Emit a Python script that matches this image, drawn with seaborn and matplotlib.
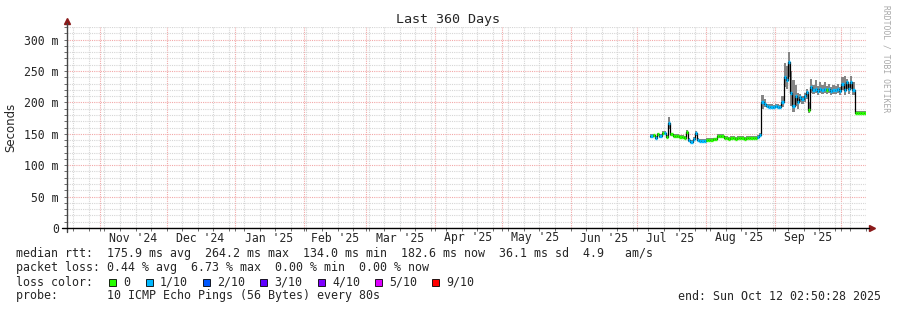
import matplotlib
matplotlib.use("Agg")
import matplotlib.pyplot as plt
import matplotlib.dates as mdates
from matplotlib.patches import Rectangle
import numpy as np
import pandas as pd
import seaborn as sns

# ---------------- data ----------------
first_day = "2025-07-07"
median_ms = [
    # Jul 7..31
    146, 148, 144, 149, 146, 151, 152, 145, 167, 149, 147, 146, 146, 145, 145, 144, 153, 140, 137, 142, 151, 140, 139, 139, 139,
    # Aug
    140, 140, 140, 141, 141, 147, 146, 146, 143, 143, 142, 143, 143, 142, 143, 143, 143, 142, 143, 143, 144, 143, 143, 145, 148,
    200, 197, 194, 193, 193, 192,
    # Sep
    194, 193, 192, 200, 240, 235, 264, 215, 195, 210, 200, 208, 205, 210, 217, 188, 225, 220, 222, 218, 221, 220, 222, 219, 221,
    218, 220, 219, 221, 218,
    # Oct 1..12
    230, 220, 232, 221, 233, 220, 183, 183, 183, 183, 183, 183,
]
smoke_hi_ms = [
    149, 150, 147, 152, 149, 154, 155, 148, 176, 152, 150, 149, 149, 148, 148, 147, 156, 143, 140, 145, 154, 143, 142, 142, 142,
    143, 143, 143, 144, 144, 150, 149, 149, 146, 146, 145, 146, 146, 145, 146, 146, 146, 145, 146, 146, 147, 146, 146, 148, 152,
    212, 205, 198, 197, 197, 196,
    198, 197, 196, 210, 262, 258, 280, 250, 235, 228, 215, 213, 210, 215, 222, 200, 238, 228, 236, 226, 232, 228, 233, 226, 230,
    225, 228, 226, 229, 225,
    240, 242, 238, 230, 242, 232, 186, 186, 186, 186, 186, 186,
]
smoke_lo_ms = [
    144, 146, 142, 147, 144, 149, 150, 143, 158, 147, 145, 144, 144, 143, 143, 142, 149, 137, 135, 140, 147, 138, 137, 137, 137,
    138, 138, 138, 139, 139, 144, 144, 144, 141, 141, 140, 141, 141, 140, 141, 141, 141, 140, 141, 141, 142, 141, 141, 143, 146,
    190, 193, 192, 191, 191, 190,
    192, 191, 190, 192, 225, 222, 240, 195, 185, 195, 190, 200, 198, 200, 205, 183, 215, 214, 215, 212, 215, 214, 215, 213, 215,
    212, 214, 213, 215, 212,
    220, 212, 222, 214, 222, 212, 181, 181, 181, 181, 181, 181,
]
loss_tenths = [
    1, 0, 1, 0, 1, 0, 1, 0, 1, 0, 0, 0, 0, 0, 0, 0, 0, 1, 1, 1, 1, 1, 1, 1, 1,
    0, 0, 0, 0, 0, 0, 0, 0, 0, 0, 0, 0, 0, 0, 0, 0, 0, 0, 0, 0, 0, 0, 0, 1, 1,
    1, 1, 1, 1, 1, 1,
    1, 1, 1, 1, 1, 1, 1, 1, 1, 1, 1, 1, 1, 1, 1, 0, 1, 1, 1, 1, 1, 1, 1, 0, 1,
    1, 1, 1, 1, 1,
    1, 1, 1, 1, 1, 1, 0, 0, 0, 0, 0, 0,
]

loss_labels = ["0", "1/10", "2/10", "3/10", "4/10", "5/10", "9/10"]
loss_colors = ["#26ff00", "#00b8ff", "#0059ff", "#5e00ff", "#7e00ff", "#dd00ff", "#ff0000"]

month_labels = ["Nov '24", "Dec '24", "Jan '25", "Feb '25", "Mar '25", "Apr '25",
                "May '25", "Jun '25", "Jul '25", "Aug '25", "Sep '25"]
month_label_dates = ["2024-11-16", "2024-12-16", "2025-01-16", "2025-02-15", "2025-03-16",
                     "2025-04-16", "2025-05-16", "2025-06-16", "2025-07-16", "2025-08-16", "2025-09-16"]

y_ticks = [0, 50, 100, 150, 200, 250, 300]
y_tick_labels = ["0", "50 m", "100 m", "150 m", "200 m", "250 m", "300 m"]

t_start = "2024-10-17 02:50:28"
t_end = "2025-10-12 02:50:28"

title = "Last 360 Days"
ylabel = "Seconds"
line_rtt = "median rtt:  175.9 ms avg  264.2 ms max  134.0 ms min  182.6 ms now  36.1 ms sd  4.9   am/s"
line_loss = "packet loss: 0.44 % avg  6.73 % max  0.00 % min  0.00 % now"
line_color = "loss color:"
line_probe = "probe:       10 ICMP Echo Pings (56 Bytes) every 80s"
line_end = "end: Sun Oct 12 02:50:28 2025"
watermark = "RRDTOOL / TOBI OETIKER"

# ---------------- figure ----------------
sns.set_theme(style="white")
plt.rcParams["font.family"] = ["DejaVu Sans Mono", "DejaVu Sans"]
W, H = 897, 310
fig = plt.figure(figsize=(W / 100, H / 100), dpi=100)
fig.patch.set_facecolor("white")
ax = fig.add_axes([67 / W, (H - 228) / H, 799 / W, 201 / H])
ax.set_facecolor("white")

df = pd.DataFrame({
    "t": pd.date_range(first_day, periods=len(median_ms), freq="D"),
    "median": median_ms, "hi": smoke_hi_ms, "lo": smoke_lo_ms, "loss": loss_tenths,
})
df["t_next"] = df["t"] + pd.Timedelta(days=1)

x0 = pd.Timestamp(t_start)
x1 = pd.Timestamp(t_end)
ax.set_xlim(x0, x1)
ax.set_ylim(0, 320)

# grid
month_starts = pd.date_range("2024-11-01", x1, freq="MS")
weeks = pd.date_range("2024-10-20", x1, freq="7D")
ax.set_xticks(month_starts)
ax.set_xticks(weeks, minor=True)
ax.set_xticklabels([])
ax.set_yticks(y_ticks)
ax.set_yticklabels(y_tick_labels)
ax.set_yticks(np.arange(0, 321, 10), minor=True)
ax.grid(which="minor", color="#d6d6d6", linestyle=(0, (1, 1)), linewidth=0.8)
ax.grid(which="major", color="#f2a8a8", linestyle=(0, (1, 1)), linewidth=0.8)
ax.set_axisbelow(True)
ax.tick_params(axis="y", which="both", length=2, width=0.6, color="#555555",
               labelsize=8.3, pad=4, left=True)
ax.tick_params(axis="x", which="both", length=2, width=0.6, color="#555555", bottom=True)
for lab in ax.get_yticklabels():
    lab.set_fontfamily("DejaVu Sans Mono")
for s in ax.spines.values():
    s.set_visible(False)

# smoke
ax.fill_between(df["t"], df["lo"], df["hi"], step="post", color="#858585", linewidth=0, zorder=2)
# median black trace
sns.lineplot(data=df, x="t", y="median", drawstyle="steps-post", color="black",
             linewidth=0.9, ax=ax, zorder=3)
# loss coloured segments
ax.hlines(df["median"], df["t"], df["t_next"],
          colors=[loss_colors[v] for v in df["loss"]], linewidth=2.4, zorder=4)
ax.set_xlabel("")
ax.set_ylabel("")

# axis lines with arrows
ax.plot([0, 0], [-0.02, 1.02], transform=ax.transAxes, color="#444444", lw=1, clip_on=False, zorder=5)
ax.plot([-0.006, 1.004], [0, 0], transform=ax.transAxes, color="black", lw=1, clip_on=False, zorder=5)
ax.plot([0], [1.028], marker="^", ms=4, color="#8b1a1a", transform=ax.transAxes, clip_on=False)
ax.plot([1.007], [0], marker=">", ms=4, color="#8b1a1a", transform=ax.transAxes, clip_on=False)

# month labels
trans = matplotlib.transforms.blended_transform_factory(ax.transData, ax.transAxes)
for lab, d in zip(month_labels, month_label_dates):
    ax.text(pd.Timestamp(d), -10 / 201, lab, transform=trans, ha="center", va="center",
            fontsize=8.3, family="DejaVu Sans Mono")

def fx(px):
    return px / W

def fy(py):
    return 1 - py / H

fig.text(fx(448), fy(19), title, ha="center", va="center", fontsize=9.6, family="DejaVu Sans Mono")
fig.text(fx(11), fy(127), ylabel, ha="center", va="center", rotation=90, fontsize=8.5,
         family="DejaVu Sans")
fig.text(fx(886), fy(5), watermark, ha="center", va="top", rotation=-90, fontsize=5.8,
         color="#a8a8a8", family="DejaVu Sans Mono")

fs = 8.4
fig.text(fx(16), fy(254), line_rtt, ha="left", va="center", fontsize=fs, family="DejaVu Sans Mono")
fig.text(fx(16), fy(268), line_loss, ha="left", va="center", fontsize=fs, family="DejaVu Sans Mono")
fig.text(fx(16), fy(282), line_color, ha="left", va="center", fontsize=fs, family="DejaVu Sans Mono")
fig.text(fx(16), fy(296), line_probe, ha="left", va="center", fontsize=fs, family="DejaVu Sans Mono")
fig.text(fx(881), fy(296), line_end, ha="right", va="center", fontsize=fs, family="DejaVu Sans Mono")

legend_box_px = [109, 146, 203, 260, 318, 375, 432]
for px, lab, col in zip(legend_box_px, loss_labels, loss_colors):
    fig.patches.append(Rectangle((fx(px), fy(286)), 7 / W, 7 / H, transform=fig.transFigure,
                                 facecolor=col, edgecolor="black", linewidth=0.6))
    fig.text(fx(px + 14), fy(282), lab, ha="left", va="center", fontsize=fs, family="DejaVu Sans Mono")

fig.savefig("out.png", dpi=100)
